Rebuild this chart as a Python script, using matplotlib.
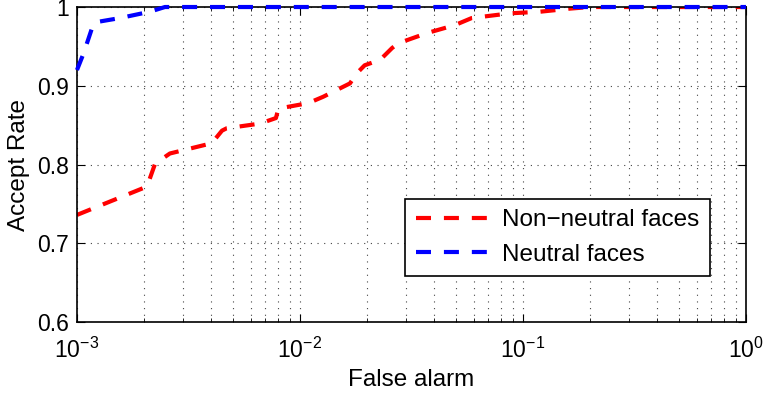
import numpy as np
import matplotlib
matplotlib.use('Agg')
import matplotlib.pyplot as plt
import matplotlib.ticker as mticker

plt.rcParams['font.family'] = ['Liberation Sans', 'DejaVu Sans']
plt.rcParams['mathtext.fontset'] = 'custom'
plt.rcParams['mathtext.rm'] = 'Liberation Sans'
plt.rcParams['mathtext.default'] = 'regular'

# non-neutral faces (false alarm, accept rate)
fa_nonneutral = [0.001, 0.00206, 0.00224, 0.00261, 0.00402, 0.00447, 0.00469, 0.00662,
                 0.0078, 0.008, 0.0109, 0.0127, 0.01675, 0.018, 0.0195, 0.0229,
                 0.0259, 0.0276, 0.0372, 0.0495, 0.0589, 0.0875, 0.119, 0.163, 0.2, 1.0]
ar_nonneutral = [0.736, 0.772, 0.801, 0.814, 0.827, 0.843, 0.846, 0.852,
                 0.859, 0.871, 0.878, 0.886, 0.903, 0.916, 0.926, 0.933,
                 0.948, 0.954, 0.967, 0.977, 0.986, 0.992, 0.994, 0.998, 1.0, 1.0]

# neutral faces
fa_neutral = [0.001, 0.00107, 0.00118, 0.00123, 0.00156, 0.00212, 0.00248, 1.0]
ar_neutral = [0.920, 0.941, 0.977, 0.981, 0.986, 0.994, 1.0, 1.0]

fs_tick = 16.5
fs_lab = 17.5

fig = plt.figure(figsize=(7.63, 3.94), dpi=100)
ax = fig.add_axes([0.1009, 0.1827, 0.8768, 0.7995])

ax.plot(fa_nonneutral, ar_nonneutral, color='#ff0000', lw=3, dashes=(3.6, 3.1),
        label='Non\u2212neutral faces')
ax.plot(fa_neutral, ar_neutral, color='#0000ff', lw=3, dashes=(3.6, 3.1),
        label='Neutral faces', clip_on=False, zorder=3)

ax.set_xscale('log')
ax.set_xlim(1e-3, 1)
ax.set_ylim(0.6, 1)
ax.xaxis.set_major_locator(mticker.LogLocator(base=10, numticks=10))
ax.xaxis.set_minor_locator(mticker.LogLocator(base=10, subs=np.arange(2, 10), numticks=10))
ax.xaxis.set_minor_formatter(mticker.NullFormatter())
ax.set_yticks([0.6, 0.7, 0.8, 0.9, 1.0])
ax.set_yticklabels(['0.6', '0.7', '0.8', '0.9', '1'])

ax.grid(True, which='major', axis='both', color='#444444', linestyle=(0, (1, 5)), lw=0.8)
ax.grid(True, which='minor', axis='x', color='#444444', linestyle=(0, (1, 5)), lw=0.8)

ax.tick_params(which='both', direction='in', top=True, right=True, labelsize=fs_tick)
ax.tick_params(axis='x', pad=11)
ax.tick_params(axis='y', pad=6)
ax.tick_params(which='major', length=6)
ax.tick_params(which='minor', length=3)
for s in ax.spines.values():
    s.set_linewidth(1.2)

ax.set_xlabel('False alarm', fontsize=fs_lab, labelpad=5)
ax.set_ylabel('Accept Rate', fontsize=fs_lab, labelpad=5)

leg = ax.legend(loc='lower right', bbox_to_anchor=(0.946, 0.146), fontsize=fs_lab,
                fancybox=False, framealpha=1, edgecolor='black', handlelength=3.1,
                handletextpad=0.45, borderpad=0.43, labelspacing=0.5, borderaxespad=0)
leg.get_frame().set_linewidth(1.2)

fig.savefig('out.png', dpi=100)
